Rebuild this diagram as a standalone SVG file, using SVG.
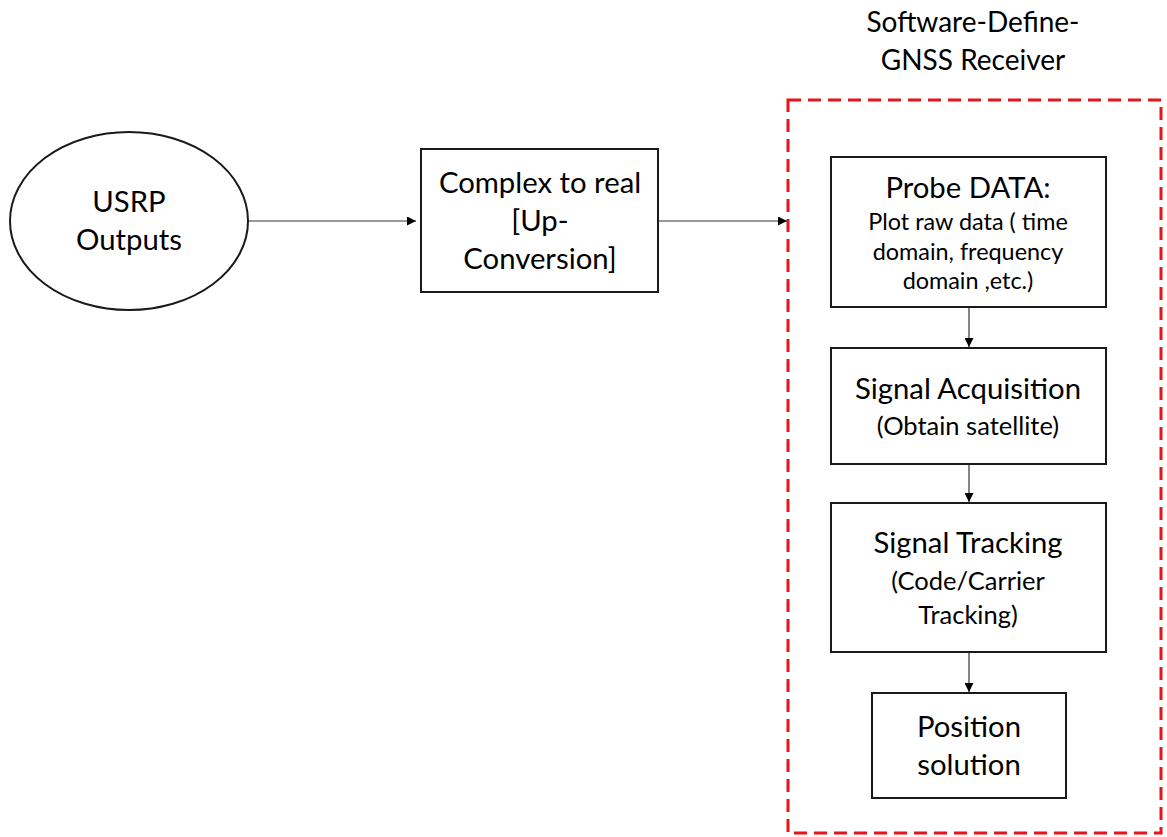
<svg xmlns="http://www.w3.org/2000/svg" width="1167" height="837" viewBox="0 0 1167 837">
<style>
.box{fill:#fff;stroke:#1a1a1a;stroke-width:2}
.t{font-family:Lato,"Open Sans",sans-serif;fill:#000;text-anchor:middle}
.big{font-size:29.3px}
.ttl{font-size:28px}
.sm{font-size:23.4px}
.md{font-size:25.5px}
.conn{stroke:#333;stroke-width:1.2;fill:none;marker-end:url(#ah)}
</style>
<defs>
<marker id="ah" viewBox="0 0 10 10" refX="10" refY="5" markerWidth="10" markerHeight="9" markerUnits="userSpaceOnUse" orient="auto">
<path d="M0,0 L10,5 L0,10 Z" fill="#000"/>
</marker>
</defs>
<rect width="1167" height="837" fill="#fff"/>
<g id="sdr-group">
<rect x="788" y="100" width="373" height="733" fill="none" stroke="#e8131b" stroke-width="3" stroke-dasharray="13,7"/>
<text class="t ttl" x="973" y="32">Software-Define-</text>
<text class="t ttl" x="973" y="70">GNSS Receiver</text>
</g>
<g id="connectors">
<line class="conn" x1="248" y1="221" x2="416" y2="221"/>
<line class="conn" x1="658" y1="221" x2="787" y2="221"/>
<line class="conn" x1="969" y1="307" x2="969" y2="347"/>
<line class="conn" x1="969" y1="464" x2="969" y2="502"/>
<line class="conn" x1="969" y1="652" x2="969" y2="692"/>
</g>
<g id="usrp">
<ellipse cx="129" cy="221" rx="119" ry="89" class="box"/>
<text class="t big" x="129" y="212">USRP</text>
<text class="t big" x="129" y="250">Outputs</text>
</g>
<g id="complex">
<rect x="421" y="149" width="237" height="143" class="box"/>
<text class="t big" x="540" y="193">Complex to real</text>
<text class="t big" x="540" y="231">[Up-</text>
<text class="t big" x="540" y="269">Conversion]</text>
</g>
<g id="probe">
<rect x="831" y="157" width="275" height="150" class="box"/>
<text class="t big" x="968" y="198">Probe DATA:</text>
<text class="t sm" x="968" y="230">Plot raw data ( time</text>
<text class="t sm" x="968" y="260">domain, frequency</text>
<text class="t sm" x="968" y="289">domain ,etc.)</text>
</g>
<g id="acq">
<rect x="831" y="348" width="275" height="116" class="box"/>
<text class="t big" x="968" y="399">Signal Acquisition</text>
<text class="t md" x="968" y="435">(Obtain satellite)</text>
</g>
<g id="track">
<rect x="831" y="503" width="275" height="149" class="box"/>
<text class="t big" x="968" y="553">Signal Tracking</text>
<text class="t md" x="968" y="590">(Code/Carrier</text>
<text class="t md" x="968" y="624">Tracking)</text>
</g>
<g id="position">
<rect x="872" y="693" width="194" height="105" class="box"/>
<text class="t big" x="969" y="737">Position</text>
<text class="t big" x="969" y="775">solution</text>
</g>
</svg>
